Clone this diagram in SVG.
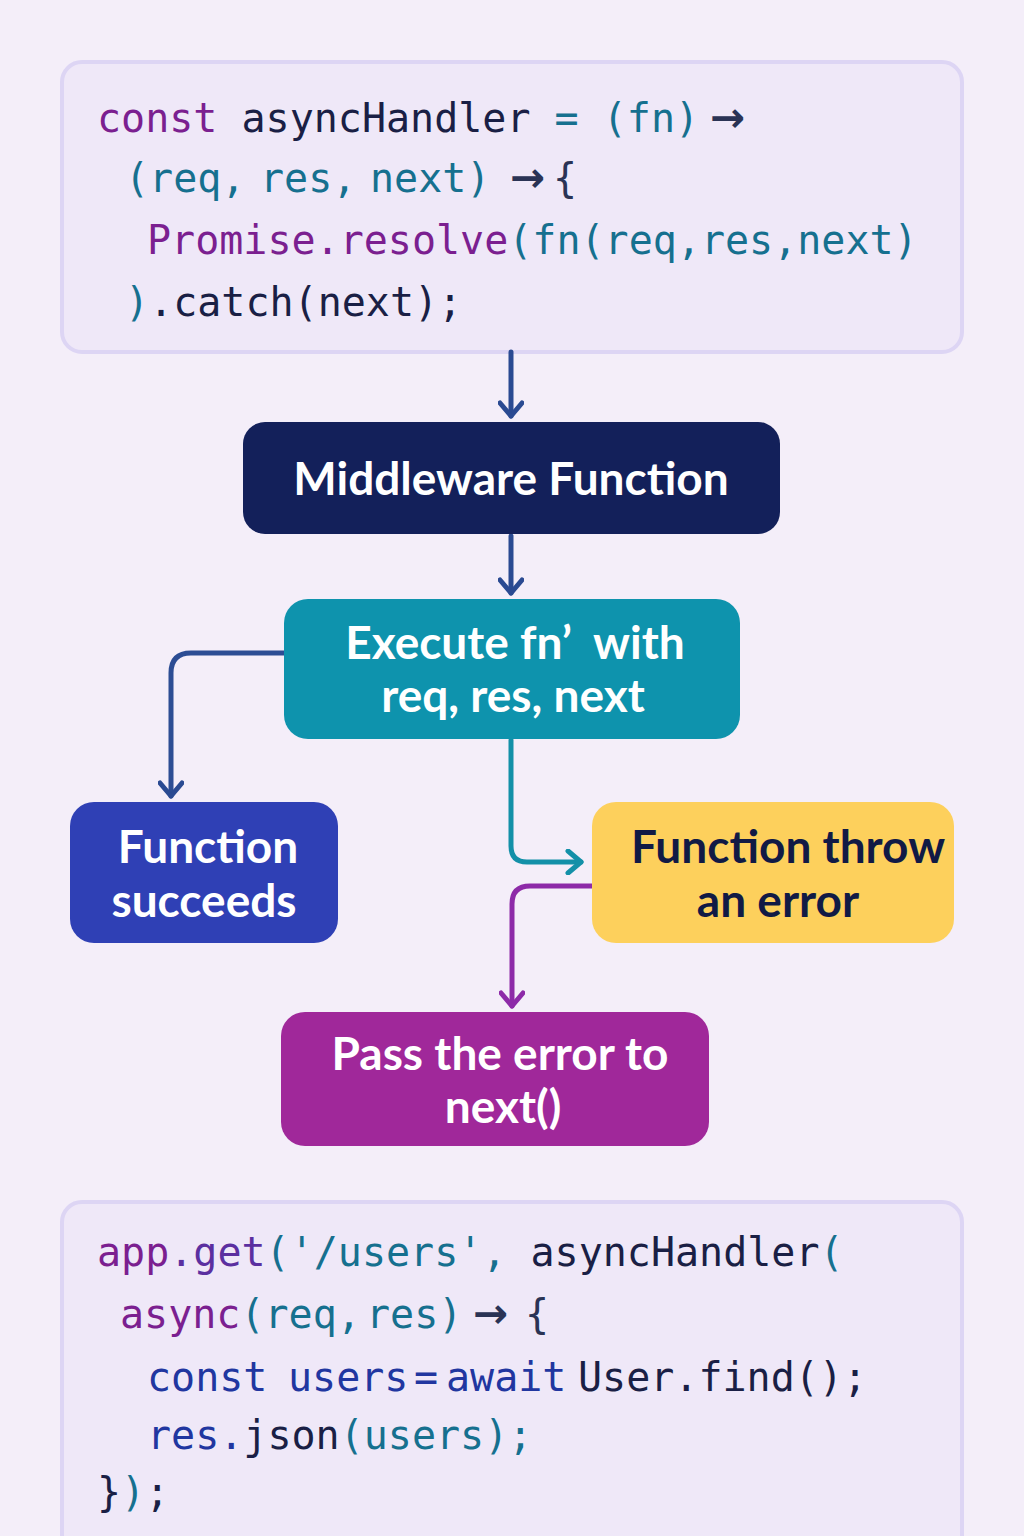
<svg xmlns="http://www.w3.org/2000/svg" width="1024" height="1536" viewBox="0 0 1024 1536">
<style>
.code{font-family:"DejaVu Sans Mono","Liberation Mono",monospace;font-size:40px}
.arw{font-family:"DejaVu Sans",sans-serif;font-size:42px;font-weight:700}
.box{fill:#efe8f8;stroke:#ddd5f4;stroke-width:4}
.lbl{font-family:Lato,"Open Sans",sans-serif;font-weight:700;font-size:46px;text-anchor:middle}
.w{fill:#ffffff}
.d{fill:#111a45}
.kw{fill:#7b1f90}
.id{fill:#1a1f45}
.pn{fill:#16708f}
.ar{fill:#2a3355}
.bl{fill:#2136a0}
.pg{fill:#5b2fa0}
.con{fill:none;stroke-width:5;stroke-linecap:round;stroke-linejoin:round}
</style>
<defs>
<marker id="mb" viewBox="0 0 26 26" markerWidth="26" markerHeight="26" refX="19" refY="13" orient="auto" markerUnits="userSpaceOnUse"><path d="M6,2 L19,13 L6,24" fill="none" stroke="#2a4a92" stroke-width="5" stroke-linecap="round" stroke-linejoin="round"/></marker>
<marker id="mt" viewBox="0 0 26 26" markerWidth="26" markerHeight="26" refX="19" refY="13" orient="auto" markerUnits="userSpaceOnUse"><path d="M6,2 L19,13 L6,24" fill="none" stroke="#1390a8" stroke-width="5" stroke-linecap="round" stroke-linejoin="round"/></marker>
<marker id="mp" viewBox="0 0 26 26" markerWidth="26" markerHeight="26" refX="19" refY="13" orient="auto" markerUnits="userSpaceOnUse"><path d="M6,2 L19,13 L6,24" fill="none" stroke="#8d2aa8" stroke-width="5" stroke-linecap="round" stroke-linejoin="round"/></marker>
</defs>
<rect width="1024" height="1536" fill="#f4eef9"/>

<g id="code-top">
<rect class="box" x="62" y="62" width="900" height="290" rx="20"/>
<text class="code" xml:space="preserve" x="97" y="132"><tspan class="kw">const</tspan> <tspan class="id">asyncHandler</tspan> <tspan class="pn">=</tspan> <tspan class="pn">(fn)</tspan><tspan class="ar arw" x="710">→</tspan></text>
<text class="code" xml:space="preserve" x="125" y="192"><tspan class="pn">(req,</tspan><tspan class="pn" x="260">res,</tspan><tspan class="pn" x="370">next)</tspan><tspan class="ar arw" x="510">→</tspan><tspan class="ar" x="553">{</tspan></text>
<text class="code" xml:space="preserve" x="147" y="254"><tspan class="kw">Promise.resolve</tspan><tspan class="pn">(fn(req,res,next)</tspan></text>
<text class="code" xml:space="preserve" x="125" y="316"><tspan class="pn">)</tspan><tspan class="id">.catch(next);</tspan></text>
</g>

<g id="connectors">
<path class="con" stroke="#2a4a92" d="M511,352 L511,416" marker-end="url(#mb)"/>
<path class="con" stroke="#2a4a92" d="M511,536 L511,593" marker-end="url(#mb)"/>
<path class="con" stroke="#2c4d94" d="M284,653 L191,653 Q171,653 171,673 L171,796" marker-end="url(#mb)"/>
<path class="con" stroke="#1390a8" d="M511,740 L511,846 Q511,862 527,862 L581,862" marker-end="url(#mt)"/>
<path class="con" stroke="#8d2aa8" d="M592,886 L530,886 Q512,886 512,904 L512,1006" marker-end="url(#mp)"/>
</g>

<g id="middleware">
<rect x="243" y="422" width="537" height="112" rx="22" fill="#13205a"/>
<text class="lbl w" x="511" y="495">Middleware Function</text>
</g>

<g id="execute">
<rect x="284" y="599" width="456" height="140" rx="24" fill="#0e93ad"/>
<text class="lbl w" xml:space="preserve" x="515" y="659">Execute fn’  with</text>
<text class="lbl w" x="513" y="712">req, res, next</text>
</g>

<g id="succeeds">
<rect x="70" y="802" width="268" height="141" rx="24" fill="#2f40b5"/>
<text class="lbl w" x="208" y="863">Function</text>
<text class="lbl w" x="204" y="917">succeeds</text>
</g>

<g id="throw">
<rect x="592" y="802" width="362" height="141" rx="24" fill="#fdd05c"/>
<text class="lbl d" x="788" y="863">Function throw</text>
<text class="lbl d" x="778" y="917">an error</text>
</g>

<g id="pass">
<rect x="281" y="1012" width="428" height="134" rx="24" fill="#a0289a"/>
<text class="lbl w" x="500" y="1070">Pass the error to</text>
<text class="lbl w" x="503" y="1123">next()</text>
</g>

<g id="code-bottom">
<rect class="box" x="62" y="1202" width="900" height="360" rx="20"/>
<text class="code" xml:space="preserve" x="97" y="1266"><tspan class="kw">app</tspan><tspan class="pg">.get</tspan><tspan class="pn">('/users',</tspan> <tspan class="id">asyncHandler</tspan><tspan class="pn">(</tspan></text>
<text class="code" xml:space="preserve" x="120" y="1328"><tspan class="kw">async</tspan><tspan class="pn">(req,</tspan><tspan class="pn" x="366">res)</tspan><tspan class="ar arw" x="473">→</tspan><tspan class="ar" x="525">{</tspan></text>
<text class="code" xml:space="preserve" x="147" y="1391"><tspan class="bl">const</tspan><tspan class="bl" x="288">users</tspan><tspan class="bl" x="414">=</tspan><tspan class="bl" x="446">await</tspan><tspan class="id" x="578">User.find();</tspan></text>
<text class="code" xml:space="preserve" x="147" y="1449"><tspan class="bl">res.</tspan><tspan class="id">json</tspan><tspan class="pn">(users);</tspan></text>
<text class="code" xml:space="preserve" x="97" y="1506"><tspan class="id">}</tspan><tspan class="pn">)</tspan><tspan class="id">;</tspan></text>
</g>
</svg>
